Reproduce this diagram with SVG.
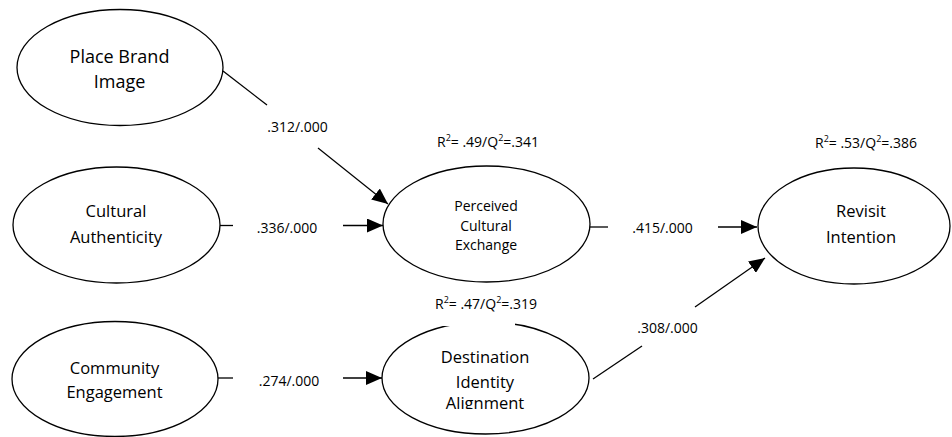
<svg xmlns="http://www.w3.org/2000/svg" width="952" height="437" viewBox="0 0 952 437">
<style>
  .node ellipse { fill: #fff; stroke: #000; stroke-width: 1.3; }
  .lbl { font-family: "Open Sans", "Liberation Sans", sans-serif; fill: #000; text-anchor: middle; }
  .big { font-size: 18px; }
  .mid { font-size: 16.5px; }
  .sm { font-size: 14px; }
  .edge { stroke: #000; stroke-width: 1.3; fill: none; }
  .sup { font-size: 9px; }
</style>
<defs>
  <marker id="arr" markerUnits="userSpaceOnUse" markerWidth="17" markerHeight="14" refX="16" refY="7" orient="auto">
    <path d="M0,0 L16,7 L0,14 z" fill="#000"/>
  </marker>
  <clipPath id="diaClip"><rect x="380" y="320" width="215" height="89"/></clipPath>
</defs>
<rect width="952" height="437" fill="#fff"/>

<g id="connectors">
  <line class="edge" x1="223" y1="71" x2="267" y2="105"/>
  <line class="edge" x1="318" y1="148" x2="388" y2="204" marker-end="url(#arr)"/>
  <text class="lbl sm" x="297.5" y="132">.312/.000</text>

  <line class="edge" x1="219" y1="225.5" x2="233" y2="225.5"/>
  <line class="edge" x1="343" y1="225.5" x2="383" y2="225.5" marker-end="url(#arr)"/>
  <text class="lbl sm" x="287" y="233">.336/.000</text>

  <line class="edge" x1="218" y1="378" x2="233" y2="378"/>
  <line class="edge" x1="343" y1="378" x2="382" y2="378" marker-end="url(#arr)"/>
  <text class="lbl sm" x="289" y="386">.274/.000</text>

  <line class="edge" x1="590" y1="227" x2="608" y2="227"/>
  <line class="edge" x1="718" y1="227" x2="757" y2="227" marker-end="url(#arr)"/>
  <text class="lbl sm" x="662.5" y="233">.415/.000</text>

  <line class="edge" x1="593" y1="379" x2="642" y2="346"/>
  <line class="edge" x1="695" y1="307" x2="765" y2="258" marker-end="url(#arr)"/>
  <text class="lbl sm" x="667.5" y="333">.308/.000</text>
</g>

<g id="place-brand-image" class="node">
  <ellipse cx="120" cy="67.5" rx="103" ry="58"/>
  <text class="lbl big" x="119.5" y="63">Place Brand</text>
  <text class="lbl big" x="119.5" y="87.5">Image</text>
</g>

<g id="cultural-authenticity" class="node">
  <ellipse cx="116.5" cy="225" rx="103.5" ry="58"/>
  <text class="lbl mid" x="116" y="217">Cultural</text>
  <text class="lbl mid" x="116" y="243">Authenticity</text>
</g>

<g id="community-engagement" class="node">
  <ellipse cx="115" cy="379" rx="103" ry="57.5"/>
  <text class="lbl mid" x="114.5" y="374">Community</text>
  <text class="lbl mid" x="114.5" y="397.5">Engagement</text>
</g>

<g id="perceived-cultural-exchange" class="node">
  <ellipse cx="486.5" cy="224" rx="103.5" ry="58"/>
  <text class="lbl sm" x="486" y="211">Perceived</text>
  <text class="lbl sm" x="486" y="230.5">Cultural</text>
  <text class="lbl sm" x="486" y="250">Exchange</text>
  <text class="lbl sm" x="488" y="147">R<tspan class="sup" dy="-6">2</tspan><tspan dy="6">= .49/Q</tspan><tspan class="sup" dy="-6">2</tspan><tspan dy="6">=.341</tspan></text>
</g>

<g id="destination-identity-alignment" class="node">
  <ellipse cx="485.5" cy="378" rx="103.5" ry="56"/>
  <rect x="438" y="296" width="77" height="30" fill="#fff"/>
  <text class="lbl sm" x="486" y="309">R<tspan class="sup" dy="-6">2</tspan><tspan dy="6">= .47/Q</tspan><tspan class="sup" dy="-6">2</tspan><tspan dy="6">=.319</tspan></text>
  <g clip-path="url(#diaClip)">
    <text class="lbl mid" x="485" y="363">Destination</text>
    <text class="lbl mid" x="485" y="388">Identity</text>
    <text class="lbl mid" x="485" y="409">Alignment</text>
  </g>
</g>

<g id="revisit-intention" class="node">
  <ellipse cx="854" cy="226" rx="96" ry="58"/>
  <text class="lbl mid" x="861" y="217">Revisit</text>
  <text class="lbl mid" x="861" y="243">Intention</text>
  <text class="lbl sm" x="866" y="148">R<tspan class="sup" dy="-6">2</tspan><tspan dy="6">= .53/Q</tspan><tspan class="sup" dy="-6">2</tspan><tspan dy="6">=.386</tspan></text>
</g>
</svg>
